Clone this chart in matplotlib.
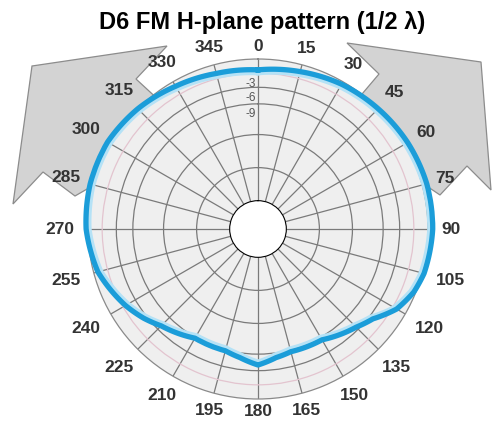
import numpy as np
import matplotlib.pyplot as plt
from matplotlib.patches import Polygon

plt.rcParams['font.family'] = ['Liberation Sans', 'DejaVu Sans']

# pattern (compass degrees, relative dB)
angles_deg = [0, 15, 30, 45, 60, 75, 90, 105, 112, 120, 128, 135, 150, 165, 172,
              180, 188, 195, 210, 225, 232, 240, 255, 270, 285, 300, 315, 330, 345]
gain_db = [-2.3, -1.5, -0.6, 0.0, 0.6, 1.0, 1.0, 0.4, -0.4, -2.1, -5.1, -6.6, -8.9, -9.1, -8.5,
           -7.2, -8.5, -9.3, -9.3, -7.0, -5.3, -3.6, -0.9, 0.4, 0.8, 0.8, 0.0, -1.1, -1.9]

ring_db = [-3, -6, -9.5, -16, -23]
ring_labels = ['-3', '-6', '-9']
tick_angles = list(range(0, 360, 15))
title = 'D6 FM H-plane pattern (1/2 \u03bb)'

R_MIN, R_MAX, R_ORIGIN = -30, 0, -36

fig = plt.figure(figsize=(4.92, 4.23), dpi=100)

# background with the grey wing shapes (pixel space)
bg = fig.add_axes([0, 0, 1, 1], zorder=0)
bg.set_xlim(0, 492)
bg.set_ylim(423, 0)
bg.axis('off')
left_wing = [(32, 66), (167, 46), (136, 79), (175, 115), (120, 170),
             (75, 196), (43, 172), (13, 204)]
right_wing = [(347, 43), (481, 62), (491, 190), (467, 166), (440, 195),
              (400, 168), (340, 120), (379, 74)]
for pts in (left_wing, right_wing):
    bg.add_patch(Polygon(pts, closed=True, facecolor='#d3d3d3',
                         edgecolor='#8c8c8c', lw=0.9))

# polar chart
ax = fig.add_axes([88 / 492, 24 / 423, 340 / 492, 340 / 423],
                  projection='polar', zorder=1)
ax.set_theta_zero_location('N')
ax.set_theta_direction(-1)
ax.set_facecolor('#efefef')
ax.set_rlim(R_MIN, R_MAX)
ax.set_rorigin(R_ORIGIN)

ax.set_thetagrids(tick_angles, labels=[''] * len(tick_angles))
ax.set_rgrids(ring_db, labels=[''] * len(ring_db))
ax.grid(True, color='#7a7a7a', lw=0.9)
ax.yaxis.get_gridlines()[0].set_color('#e3c4cf')
ax.spines['polar'].set_color('#8a8a8a')
ax.spines['polar'].set_linewidth(0.9)
ax.spines['inner'].set_visible(False)
ax.tick_params(length=0, pad=0)

# close the loop at 360 so the last segment runs forward
theta = np.deg2rad(angles_deg + [angles_deg[0] + 360])
gain = np.array(gain_db + [gain_db[0]])
halo, = ax.plot(theta, gain - 0.8, color='#b5e2f6', lw=2.5, zorder=4, clip_on=False)
trace, = ax.plot(theta, gain, color='#1b9dd9', lw=3.8, zorder=5, clip_on=False,
                 solid_joinstyle='round')
# draw segments as arcs in polar space rather than straight chords
for ln in (halo, trace):
    ln.get_path()._interpolation_steps = 40

# ring labels under each ring near 0 deg
for lbl, rv in zip(ring_labels, ring_db):
    ax.annotate(lbl, xy=(0, rv), xytext=(-5, -7.5), textcoords='offset points',
                ha='center', va='center', fontsize=8.5, color='#555555')

# angle labels around the rim
px_per_db = 170 / (R_MAX - R_ORIGIN)
for a in tick_angles:
    s = str(a)
    w = 10 * len(s)
    sa, ca = abs(np.sin(np.deg2rad(a))), abs(np.cos(np.deg2rad(a)))
    r_px = 170 + 7 + 6 * sa + 0.5 * w * sa + 6 * ca
    ax.text(np.deg2rad(a), R_ORIGIN + r_px / px_per_db, s, ha='center', va='center',
            fontsize=12.5, fontweight='bold', color='#333333', clip_on=False)

fig.text(262 / 492, 1 - 22 / 423, title, ha='center', va='center',
         fontsize=17, fontweight='bold', color='black')

fig.savefig('out.png', dpi=100)
